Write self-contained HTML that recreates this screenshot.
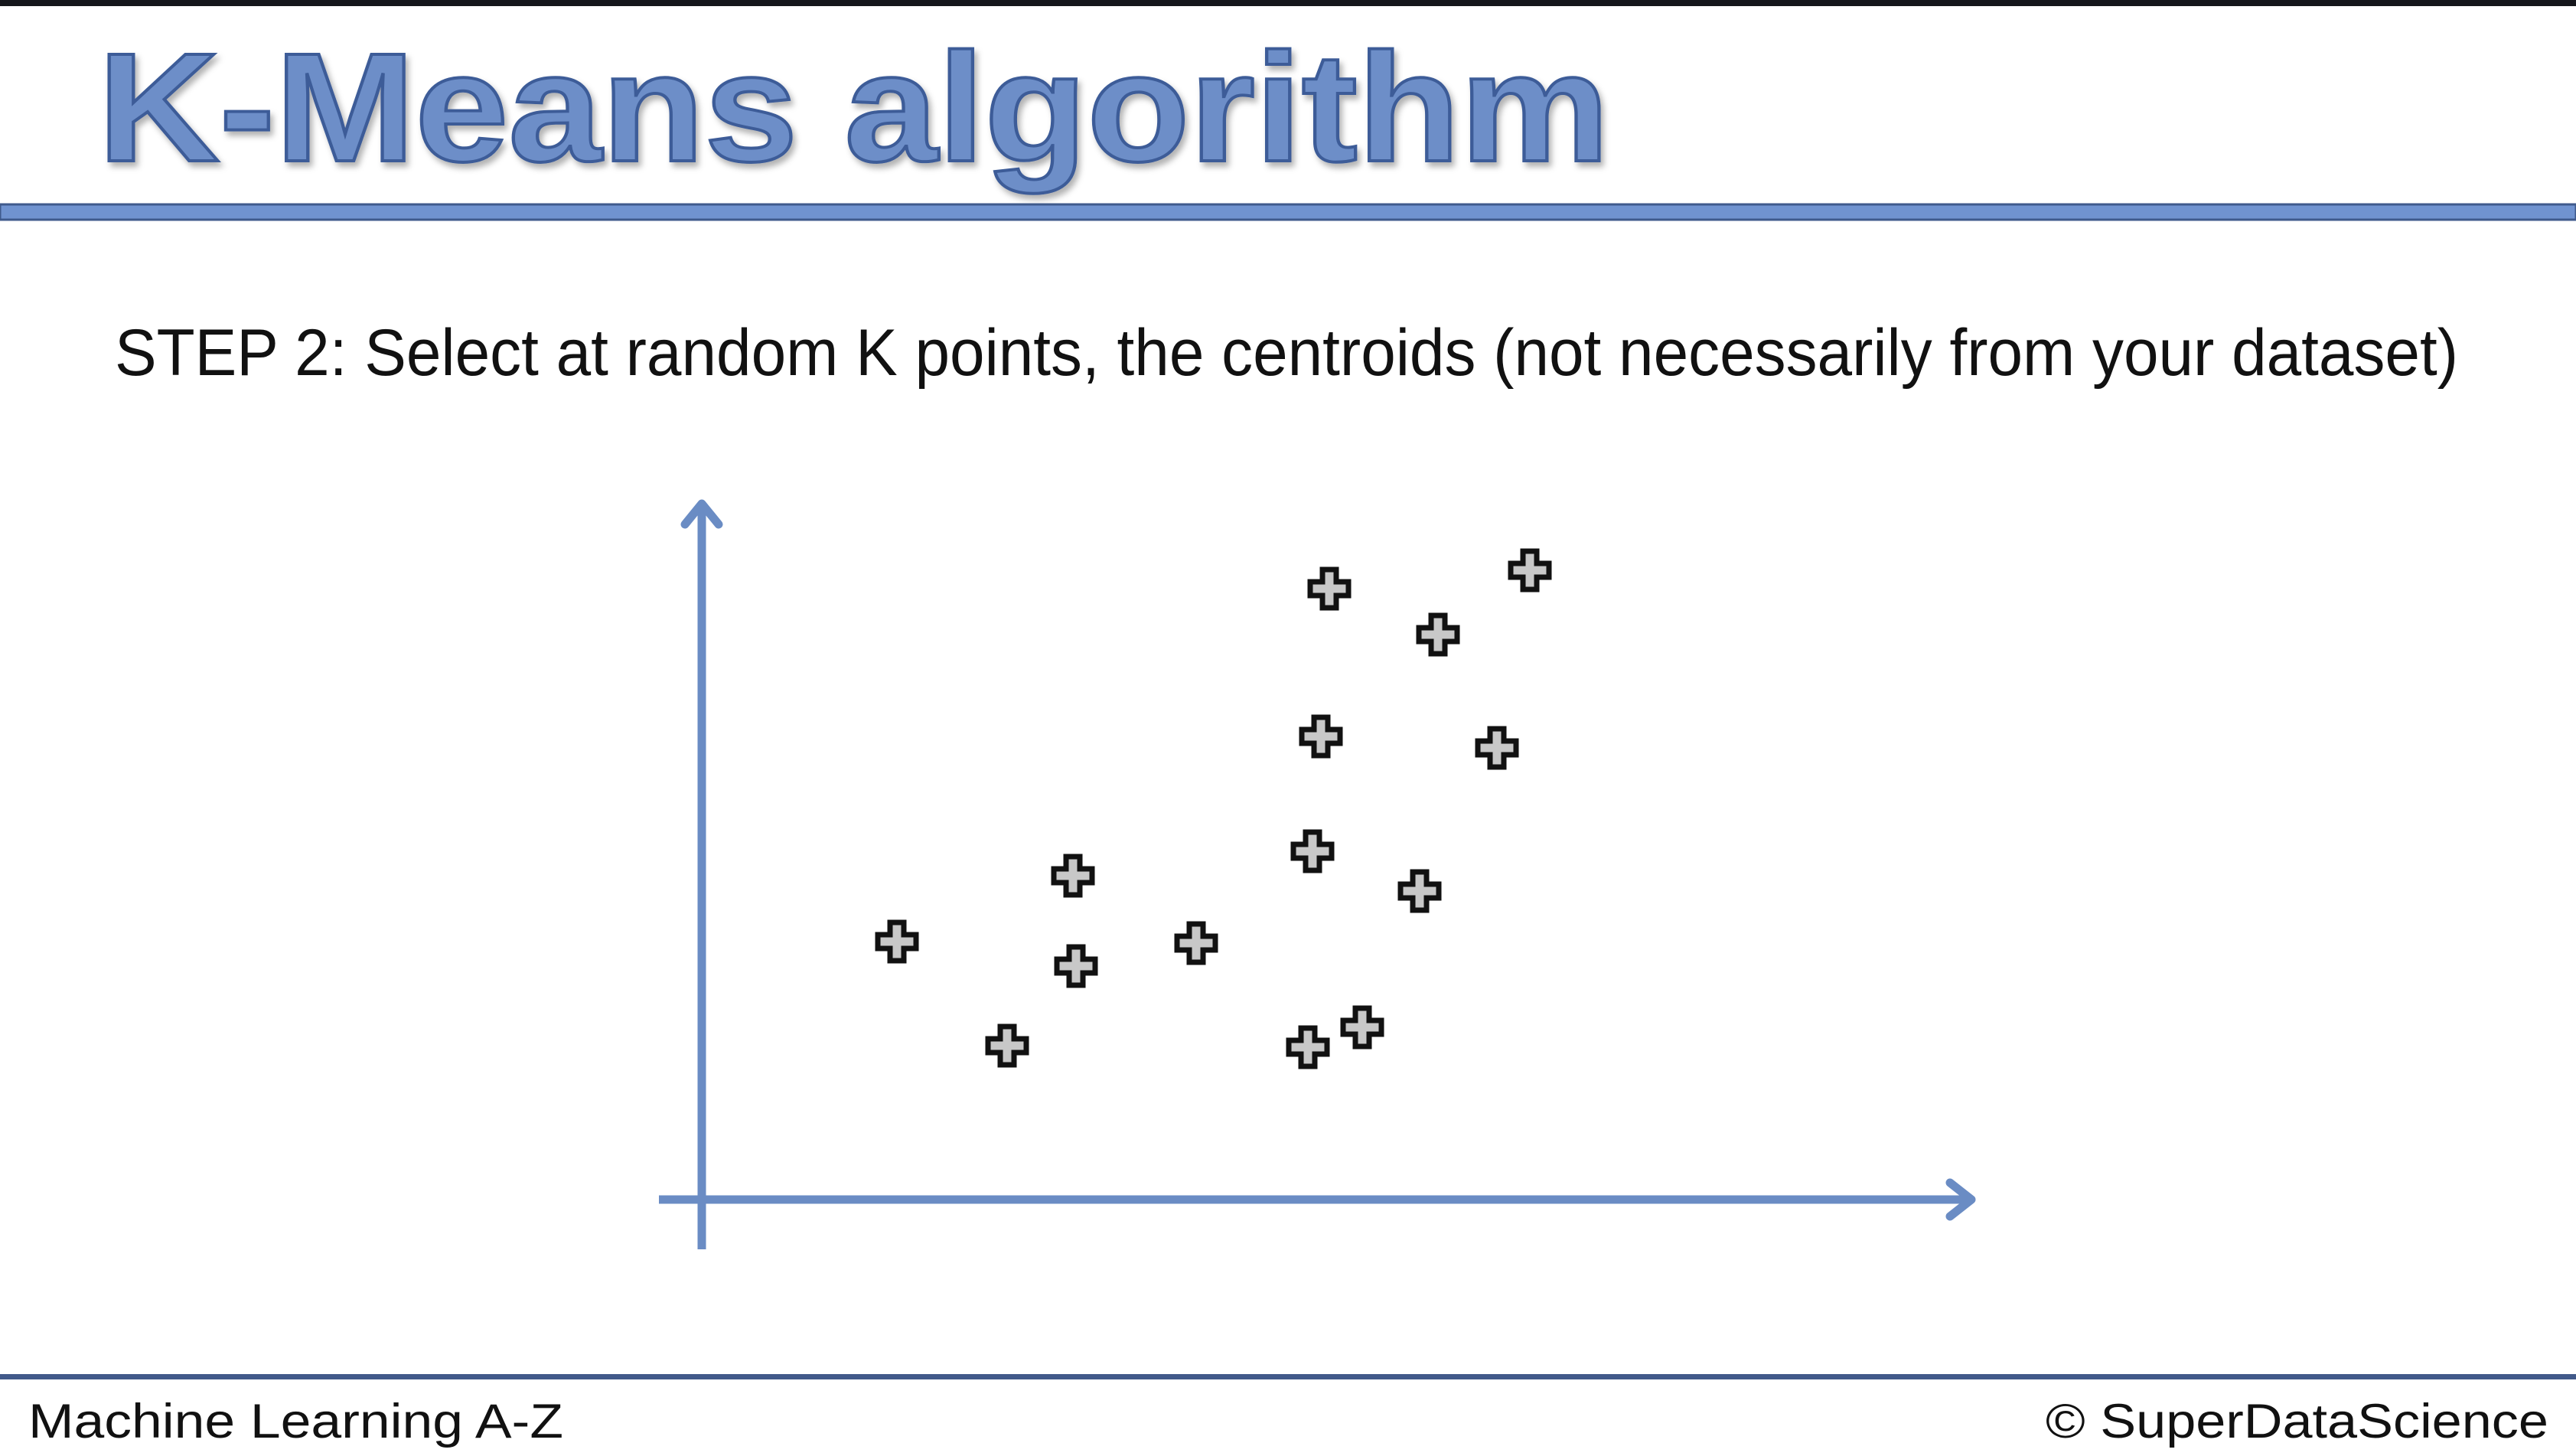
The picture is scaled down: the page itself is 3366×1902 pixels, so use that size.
<!DOCTYPE html>
<html><head><meta charset="utf-8"><style>
html,body{margin:0;padding:0;background:#fff;}
svg{display:block;}
</style></head><body>
<svg width="3366" height="1902" viewBox="0 0 3366 1902" xmlns="http://www.w3.org/2000/svg">
<defs>
<filter id="sh" x="-5%" y="-5%" width="110%" height="120%"><feDropShadow dx="4" dy="6" stdDeviation="4" flood-color="#000" flood-opacity="0.3"/></filter>
</defs>
<rect x="0" y="0" width="3366" height="8" fill="#15161b"/>
<text x="128" y="210" font-family="Liberation Sans, sans-serif" font-weight="bold" font-size="202" fill="#6d8ec8" stroke="#3c5c98" stroke-width="4" textLength="1975" lengthAdjust="spacingAndGlyphs" filter="url(#sh)">K-Means algorithm</text>
<rect x="0" y="267" width="3366" height="20" fill="#7093d0" stroke="#3f5a8c" stroke-width="3"/>
<text x="150" y="490" font-family="Liberation Sans, sans-serif" font-size="86" fill="#111" textLength="3062" lengthAdjust="spacingAndGlyphs">STEP 2: Select at random K points, the centroids (not necessarily from your dataset)</text>
<g id="chart">
<line x1="917" y1="1632" x2="917" y2="660" stroke="#6a8cc4" stroke-width="11"/>
<polyline points="895,685 917,658 939,685" fill="none" stroke="#6a8cc4" stroke-width="11" stroke-linecap="round" stroke-linejoin="round"/>
<line x1="861" y1="1567" x2="2572" y2="1567" stroke="#6a8cc4" stroke-width="11"/>
<polyline points="2548,1545 2576,1567 2548,1589" fill="none" stroke="#6a8cc4" stroke-width="11" stroke-linecap="round" stroke-linejoin="round"/>
<g id="points"></g>
</g>
<rect x="0" y="1795" width="3366" height="7" fill="#41598a"/>
<text x="37" y="1878" font-family="Liberation Sans, sans-serif" font-size="63" fill="#111" textLength="699" lengthAdjust="spacingAndGlyphs">Machine Learning A-Z</text>
<text x="2673" y="1878" font-family="Liberation Sans, sans-serif" font-size="63" fill="#111" textLength="657" lengthAdjust="spacingAndGlyphs">© SuperDataScience</text>
</svg>
<script>
const xValues = [8.20, 10.82, 9.62, 8.09, 10.39, 7.98, 9.38, 4.85, 2.55, 4.89, 6.46, 3.99, 7.92, 8.63];
const yValues = [7.98, 8.22, 7.38, 6.05, 5.90, 4.55, 4.03, 4.23, 3.37, 3.05, 3.35, 2.01, 1.99, 2.25];
const ox = 917, oy = 1567, unit = 100;
function sx(v){ return ox + v * unit; }
function sy(v){ return oy - v * unit; }
const g = document.getElementById('points');
const NS = 'http://www.w3.org/2000/svg';
const a = 25, b = 9;
for (let i = 0; i < xValues.length; i++) {
  const cx = sx(xValues[i]), cy = sy(yValues[i]);
  const p = document.createElementNS(NS, 'path');
  const d = `M${cx-b},${cy-a} H${cx+b} V${cy-b} H${cx+a} V${cy+b} H${cx+b} V${cy+a} H${cx-b} V${cy+b} H${cx-a} V${cy-b} H${cx-b} Z`;
  p.setAttribute('d', d);
  p.setAttribute('fill', '#c8c8c8');
  p.setAttribute('stroke', '#111');
  p.setAttribute('stroke-width', '7');
  
  
  g.appendChild(p);
}
</script>
</body></html>
